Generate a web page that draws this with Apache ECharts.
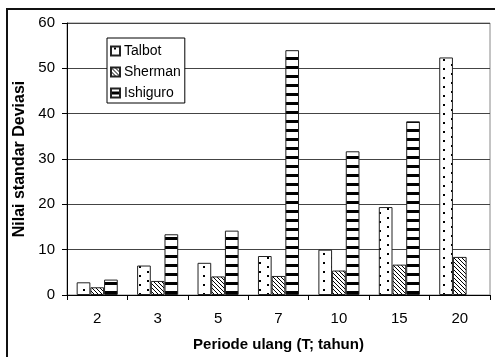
<!DOCTYPE html>
<html>
<head>
<meta charset="utf-8">
<script src="https://cdn.jsdelivr.net/npm/echarts@6/dist/echarts.min.js"></script>
<style>
  html, body { margin: 0; padding: 0; background: #fff; }
  #chart { width: 495px; height: 357px; }
</style>
</head>
<body>
<div id="chart"></div>
<script>
var periods = ['2', '3', '5', '7', '10', '15', '20'];
var talbot = [2.8, 6.5, 7.1, 8.6, 10.0, 19.4, 52.4];
var sherman = [1.7, 3.1, 4.1, 4.2, 5.4, 6.7, 8.4];
var ishiguro = [3.4, 13.4, 14.2, 54.0, 31.7, 38.3, null];

// small canvas tiles used as fill patterns (like the old Excel hatches)
function tile(w, h, draw) {
  var c = document.createElement('canvas');
  c.width = w; c.height = h;
  var ctx = c.getContext('2d');
  ctx.fillStyle = '#fff';
  ctx.fillRect(0, 0, w, h);
  ctx.fillStyle = '#000';
  ctx.strokeStyle = '#000';
  draw(ctx);
  return { image: c, repeat: 'repeat' };
}

var dots = tile(16, 9, function (ctx) {
  ctx.fillRect(3, 1, 2, 2);
  ctx.fillRect(11, 5, 2, 2);
});
var hatch = tile(4, 4, function (ctx) {
  ctx.lineWidth = 1;
  ctx.beginPath();
  ctx.moveTo(-1, -1); ctx.lineTo(5, 5);
  ctx.moveTo(-1, 3); ctx.lineTo(1, 5);
  ctx.moveTo(3, -1); ctx.lineTo(5, 1);
  ctx.stroke();
});
var stripes = tile(8, 9, function (ctx) {
  ctx.fillRect(0, 3, 8, 3);
});

var chart = echarts.init(document.getElementById('chart'));

function barSeries(name, data, fill) {
  return {
    name: name,
    type: 'bar',
    data: data,
    barGap: '0%',
    barCategoryGap: '32%',
    itemStyle: { color: fill, borderColor: '#222', borderWidth: 1 }
  };
}

var option = {
  animation: false,
  textStyle: { fontFamily: '"Liberation Sans", Arial, sans-serif', color: '#000' },
  graphic: [{
    type: 'rect',
    shape: { x: 7, y: 9, width: 520, height: 400 },
    style: { fill: 'none', stroke: '#111', lineWidth: 2 },
    silent: true
  }],
  grid: {
    left: 67, right: 5, top: 23, bottom: 60,
    show: true, borderColor: '#888', borderWidth: 1
  },
  legend: {
    orient: 'vertical',
    left: 107, top: 38,
    padding: [6, 4, 3, 3],
    backgroundColor: '#fff',
    borderColor: '#000', borderWidth: 1, borderRadius: 0,
    itemWidth: 9, itemHeight: 9, itemGap: 7,
    icon: 'rect',
    textStyle: { fontSize: 14, lineHeight: 14, padding: [0, 0, 0, -1], color: '#000',
      fontFamily: '"Liberation Sans", Arial, sans-serif' },
    data: ['Talbot', 'Sherman', 'Ishiguro']
  },
  xAxis: {
    type: 'category',
    data: periods,
    name: 'Periode ulang (T; tahun)',
    nameLocation: 'middle',
    nameGap: 42,
    nameTextStyle: { fontSize: 15, fontWeight: 'bold', color: '#000' },
    axisLine: { lineStyle: { color: '#000', width: 1 } },
    axisTick: { show: true, length: 5, lineStyle: { color: '#000' } },
    axisLabel: { fontSize: 15, margin: 16, color: '#000' }
  },
  yAxis: {
    type: 'value',
    min: 0, max: 60, interval: 10,
    name: 'Nilai standar Deviasi',
    nameLocation: 'middle',
    nameGap: 35,
    nameTextStyle: { fontSize: 16, fontWeight: 'bold', color: '#000' },
    axisLine: { show: true, lineStyle: { color: '#000', width: 1 } },
    axisTick: { show: true, length: 5, lineStyle: { color: '#000' } },
    axisLabel: { fontSize: 15, margin: 12, color: '#000' },
    splitLine: { lineStyle: { color: '#444', width: 1 } }
  },
  series: [
    barSeries('Talbot', talbot, dots),
    barSeries('Sherman', sherman, hatch),
    barSeries('Ishiguro', ishiguro, stripes)
  ]
};

chart.setOption(option);
</script>
</body>
</html>
